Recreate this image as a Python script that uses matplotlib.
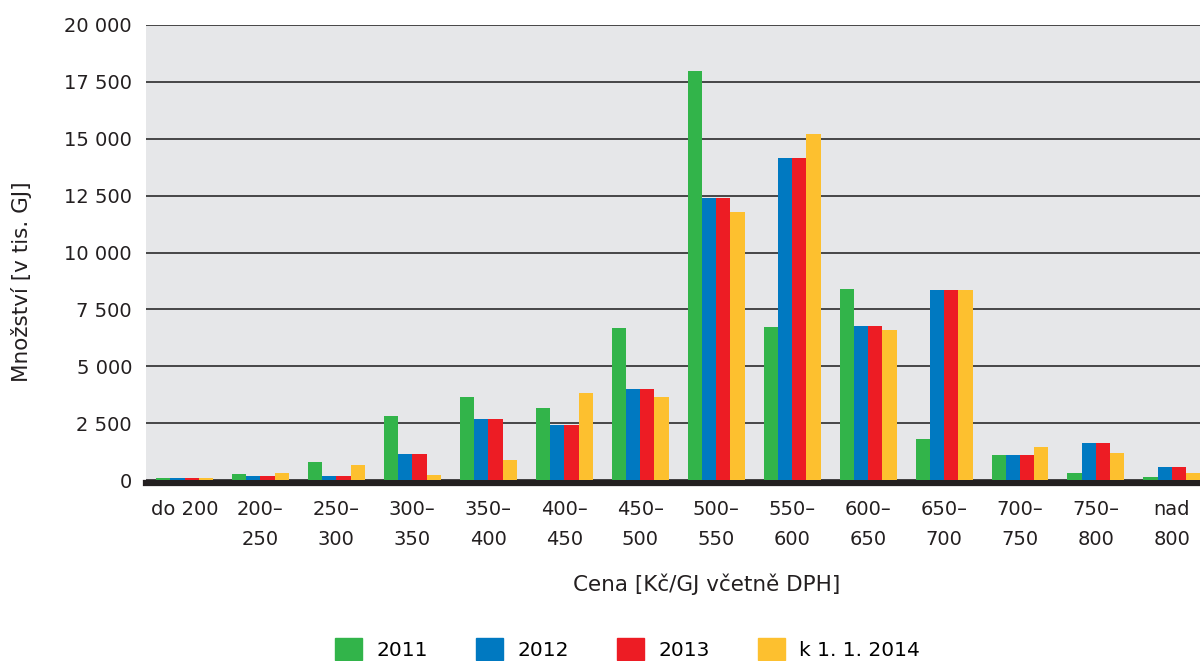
import matplotlib.pyplot as plt
import numpy as np
from matplotlib.patches import Patch

categories = ['do 200', '200–\n250', '250–\n300', '300–\n350', '350–\n400', '400–\n450',
              '450–\n500', '500–\n550', '550–\n600', '600–\n650', '650–\n700',
              '700–\n750', '750–\n800', 'nad\n800']
series_names = ['2011', '2012', '2013', 'k 1. 1. 2014']
v2011 = [100, 260, 790, 2800, 3640, 3160, 6670, 17980, 6710, 8380, 1800, 1100, 300, 120]
v2012 = [100, 170, 170, 1140, 2680, 2410, 3990, 12410, 14170, 6750, 8330, 1100, 1620, 570]
v2013 = [100, 170, 170, 1140, 2680, 2410, 3990, 12410, 14170, 6750, 8330, 1100, 1620, 570]
v2014 = [80, 300, 660, 200, 880, 3820, 3640, 11800, 15220, 6580, 8330, 1450, 1180, 300]
colors = ['#32B44A', '#0079C1', '#ED1C24', '#FDC02F']

plt.rcParams['font.family'] = ['DejaVu Sans']
plt.rcParams['font.size'] = 13
txt = '#231F20'

fig = plt.figure(figsize=(12, 6.61), dpi=100)
ax = fig.add_axes([146 / 1200, 1 - 480 / 661, 1 - 146 / 1200, 455 / 661])
ax.set_facecolor('#E6E7E9')

# spines first: set_position resets the ticks
for s in ['top', 'right', 'left']:
    ax.spines[s].set_visible(False)
ax.spines['bottom'].set_position(('outward', 2.5))
ax.spines['bottom'].set_linewidth(4.5)
ax.spines['bottom'].set_color(txt)
ax.spines['bottom'].set_zorder(5)

x = np.arange(len(categories))
w = 0.1875
for i, (vals, c) in enumerate(zip([v2011, v2012, v2013, v2014], colors)):
    ax.bar(x + (i - 1.5) * w, vals, width=w, color=c, zorder=6)

ax.set_xlim(-0.507, 13.37)
ax.set_ylim(0, 20000)
ticks = np.arange(0, 20001, 2500)
ax.set_yticks(ticks)
ax.set_yticklabels([f'{t:,}'.replace(',', ' ') for t in ticks], color=txt, fontsize=14)
ax.yaxis.grid(True, color='#3a3a3a', linewidth=1.3, zorder=1)
ax.set_xticks(x)
ax.set_xticklabels(categories, color=txt, fontsize=14)
ax.tick_params(length=0, pad=10)
ax.tick_params(axis='x', pad=12)
for lbl in ax.get_xticklabels():
    lbl.set_linespacing(1.75)

ax.set_xlabel('Cena [Kč/GJ včetně DPH]', color=txt, fontsize=15.5)
ax.xaxis.set_label_coords(0.532, -0.205)
ax.set_ylabel('Množství [v tis. GJ]', color=txt, fontsize=15.5)
ax.yaxis.set_label_coords(-0.108, 0.435)

handles = [Patch(color=c) for c in colors]
fig.legend(handles, series_names, loc='center', bbox_to_anchor=(0.523, 1 - 649 / 661), ncol=4,
           frameon=False, fontsize=14.5, handlelength=1.35, handleheight=1.25,
           columnspacing=2.4, handletextpad=0.7)

fig.savefig('out.png', dpi=100)
